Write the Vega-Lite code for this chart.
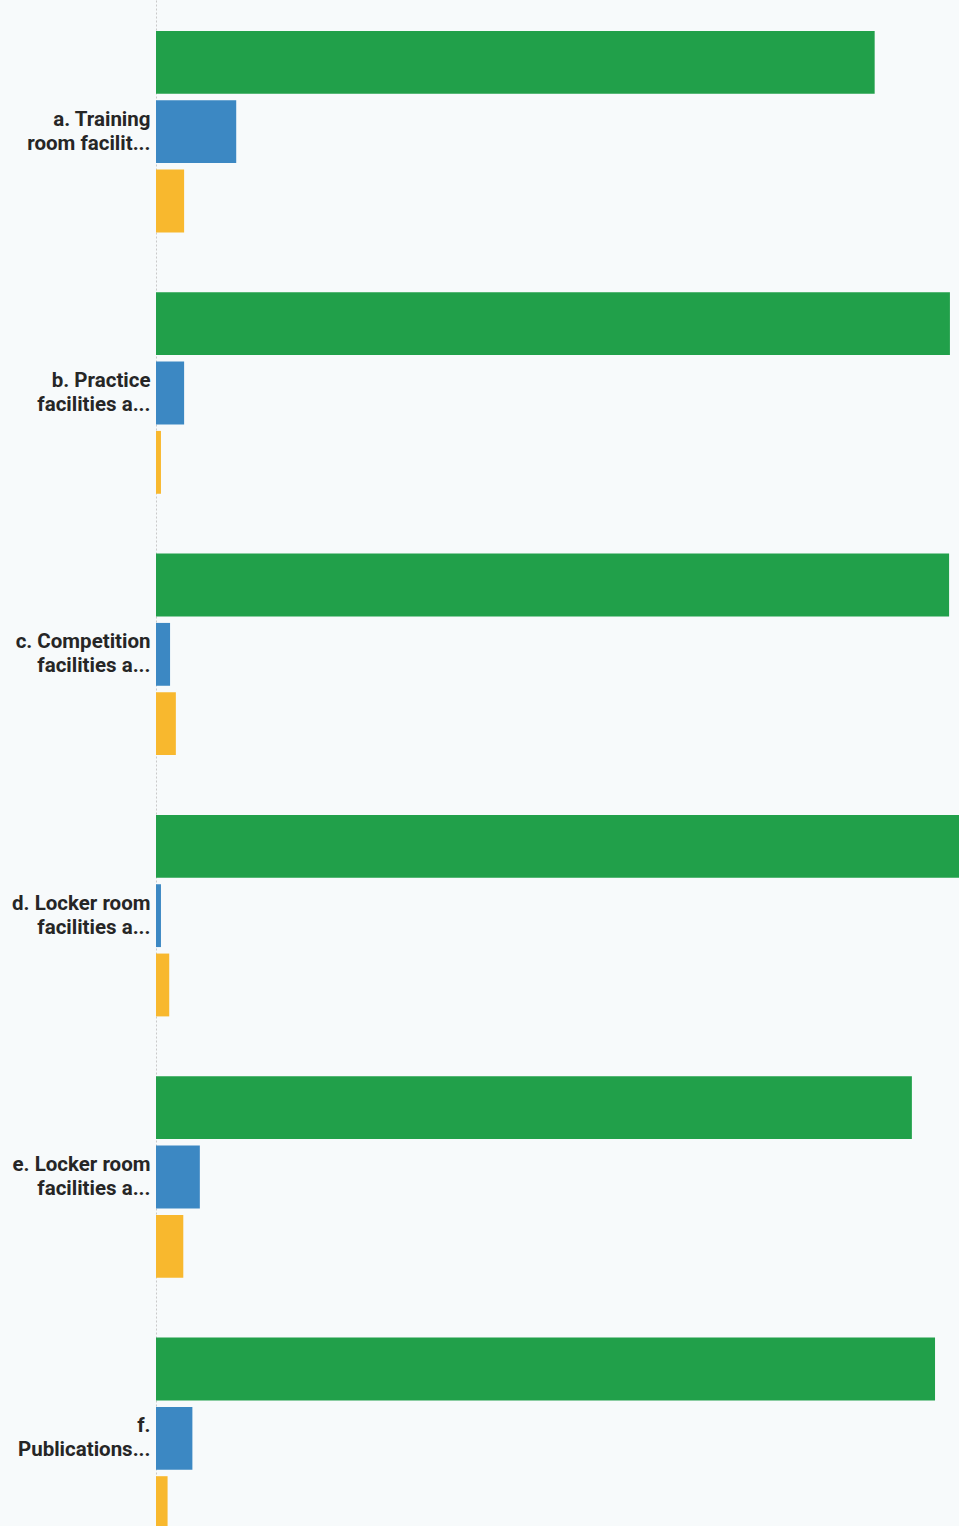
{
  "$schema": "https://vega.github.io/schema/vega-lite/v6.json",
  "width": 827,
  "height": 1570,
  "autosize": {"type": "none"},
  "padding": {"left": 156, "top": 0, "right": 0, "bottom": 0},
  "background": "#f7fafb",
  "config": {"view": {"stroke": null}},
  "data": {
    "values": [
      {"question": "a. Training\nroom facilit...", "answer": "Yes", "percent": 86.9},
      {"question": "a. Training\nroom facilit...", "answer": "No", "percent": 9.7},
      {"question": "a. Training\nroom facilit...", "answer": "Not applicable", "percent": 3.4},
      {"question": "b. Practice\nfacilities a...", "answer": "Yes", "percent": 96.0},
      {"question": "b. Practice\nfacilities a...", "answer": "No", "percent": 3.4},
      {"question": "b. Practice\nfacilities a...", "answer": "Not applicable", "percent": 0.6},
      {"question": "c. Competition\nfacilities a...", "answer": "Yes", "percent": 95.9},
      {"question": "c. Competition\nfacilities a...", "answer": "No", "percent": 1.7},
      {"question": "c. Competition\nfacilities a...", "answer": "Not applicable", "percent": 2.4},
      {"question": "d. Locker room\nfacilities a...", "answer": "Yes", "percent": 97.8},
      {"question": "d. Locker room\nfacilities a...", "answer": "No", "percent": 0.6},
      {"question": "d. Locker room\nfacilities a...", "answer": "Not applicable", "percent": 1.6},
      {"question": "e. Locker room\nfacilities a...", "answer": "Yes", "percent": 91.4},
      {"question": "e. Locker room\nfacilities a...", "answer": "No", "percent": 5.3},
      {"question": "e. Locker room\nfacilities a...", "answer": "Not applicable", "percent": 3.3},
      {"question": "f.\nPublications...", "answer": "Yes", "percent": 94.2},
      {"question": "f.\nPublications...", "answer": "No", "percent": 4.4},
      {"question": "f.\nPublications...", "answer": "Not applicable", "percent": 1.4}
    ]
  },
  "mark": {"type": "bar", "cornerRadius": 0},
  "encoding": {
    "y": {
      "field": "question",
      "type": "nominal",
      "sort": null,
      "scale": {"paddingInner": 0.229, "paddingOuter": 0.1185},
      "axis": {
        "title": null,
        "ticks": false,
        "labelExpr": "split(datum.label, '\\n')",
        "labelFont": "Roboto",
        "labelFontWeight": "bold",
        "labelFontSize": 20.5,
        "labelColor": "#262626",
        "labelLineHeight": 24,
        "labelOffset": -12,
        "labelPadding": 6,
        "labelLimit": 200,
        "domainColor": "#c9c9c9",
        "domainDash": [2, 2],
        "domainWidth": 1
      }
    },
    "yOffset": {
      "field": "answer",
      "type": "nominal",
      "sort": ["Yes", "No", "Not applicable"],
      "scale": {"paddingInner": 0.0935, "paddingOuter": 0}
    },
    "x": {
      "field": "percent",
      "type": "quantitative",
      "scale": {"domain": [0, 100], "nice": false},
      "axis": null
    },
    "color": {
      "field": "answer",
      "type": "nominal",
      "scale": {"domain": ["Yes", "No", "Not applicable"], "range": ["#21a04a", "#3c88c3", "#f8b82e"]},
      "legend": null
    }
  }
}
